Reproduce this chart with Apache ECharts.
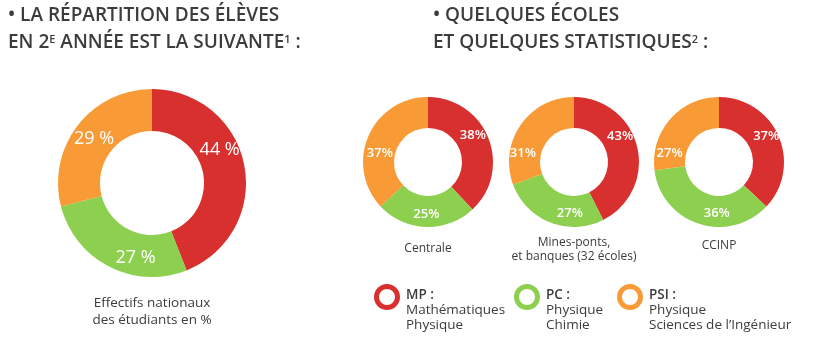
<!DOCTYPE html>
<html><head><meta charset="utf-8">
<script src="https://cdn.jsdelivr.net/npm/echarts@6/dist/echarts.min.js"></script>
<style>html,body{margin:0;padding:0;background:#fff}#c{width:819px;height:346px}</style>
</head><body><div id="c"></div>
<script>
// ---- data ----
const categories = ['MP', 'PC', 'PSI'];
const nationalValues = [44, 27, 29];
const centraleValues = [38, 25, 37];
const minesValues = [43, 27, 31];
const ccinpValues = [37, 36, 27];
const schoolNames = ['Centrale', 'Mines-ponts,\net banques (32 écoles)', 'CCINP'];
const nationalCaption = 'Effectifs nationaux\ndes étudiants en %';
const legendTitles = ['MP :', 'PC :', 'PSI :'];
const legendDescriptions = ['Mathématiques\nPhysique', 'Physique\nChimie', 'Physique\nSciences de l’Ingénieur'];

// ---- style / layout ----
const colors = ['#D8302E', '#8DCF4F', '#F89B37'];
const FONT = '"Open Sans", "Noto Sans", sans-serif';
const TXT = '#3c3c3b';
// hand-placed label nudges (as in the original artwork)
const labelNudges = [
  [[-7, -19], [18, 7], [2, 2]],
  [[-4, -7], [0, 0], [0, 12]],
  [[-5, -14], [15, 2], [-8, 21]],
  [[-1, -5], [14, 1], [-10, 26]]
];

function pieSeries(values, center, radius, labelSize, suffix, weight, nudges) {
  return {
    type: 'pie', center: center, radius: radius, startAngle: 90, clockwise: true,
    silent: true, animation: false,
    label: { show: true, position: 'inside', color: '#fff', fontSize: labelSize, fontFamily: FONT,
      fontWeight: weight, formatter: p => p.value + suffix },
    labelLine: { show: false },
    itemStyle: { borderWidth: 0 },
    emphasis: { disabled: true },
    data: values.map((v, i) => ({ name: categories[i], value: v,
      itemStyle: { color: colors[i] }, label: { offset: nudges[i] } }))
  };
}

const smallCenters = [[428, 162], [574, 162], [719, 162]];
const smallSets = [centraleValues, minesValues, ccinpValues];

const series = [pieSeries(nationalValues, [152, 183], [52, 94], 18, ' %', 'normal', labelNudges[0])];
smallSets.forEach((vals, k) => series.push(pieSeries(vals, smallCenters[k], [34, 65], 13, '%', 600, labelNudges[k + 1])));

const graphic = [];
// titles
const titleRich = {
  a: { fontSize: 19, fontWeight: 600, fontFamily: FONT, fill: TXT },
  s: { fontSize: 11, fontWeight: 600, fontFamily: FONT, fill: TXT, verticalAlign: 'top', padding: [1, 0, 0, 0] }
};
function title(x, y, text) {
  graphic.push({ type: 'text', left: x, top: y, silent: true,
    style: { text: text, rich: titleRich, fill: TXT } });
}
title(8, 6, '{a|• LA RÉPARTITION DES ÉLÈVES}');
title(8, 33, '{a|EN 2}{s|E}{a| ANNÉE EST LA SUIVANTE}{s|1}{a| :}');
title(433, 6, '{a|• QUELQUES ÉCOLES}');
title(433, 33, '{a|ET QUELQUES STATISTIQUES}{s|2}{a| :}');

// captions
function caption(x, y, text, size, lh) {
  graphic.push({ type: 'text', x: x, y: y, silent: true,
    style: { text: text, fill: TXT, font: size + 'px ' + FONT, align: 'center', verticalAlign: 'top', lineHeight: lh } });
}
caption(152, 295, nationalCaption, 13.5, 17);
caption(smallCenters[0][0], 242, schoolNames[0], 12, 14);
caption(smallCenters[1][0], 236, schoolNames[1], 12, 14);
caption(smallCenters[2][0], 239, schoolNames[2], 12, 14);

// legend
const legendX = [387, 527, 630];
categories.forEach((c, i) => {
  graphic.push({ type: 'ring', silent: true, shape: { cx: legendX[i], cy: 297, r: 13, r0: 8 },
    style: { fill: colors[i] } });
  graphic.push({ type: 'text', left: legendX[i] + 19, top: 288, silent: true,
    style: { text: '{b|' + legendTitles[i] + '}\n{n|' + legendDescriptions[i].split('\n').join('}\n{n|') + '}',
      rich: {
        b: { fontSize: 13.5, fontWeight: 600, fontFamily: FONT, fill: TXT, lineHeight: 15 },
        n: { fontSize: 13.5, fontFamily: FONT, fill: TXT, lineHeight: 15 }
      } } });
});

const chart = echarts.init(document.getElementById('c'), null, { renderer: 'canvas' });
chart.setOption({ animation: false, backgroundColor: '#fff', series: series, graphic: graphic });
</script></body></html>
